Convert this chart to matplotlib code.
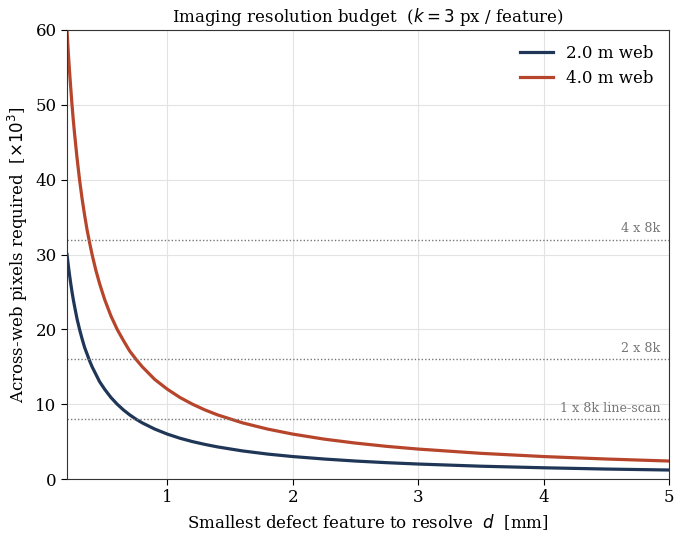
import numpy as np
import matplotlib
matplotlib.use("Agg")
import matplotlib.pyplot as plt

plt.rcParams["font.family"] = "DejaVu Serif"
plt.rcParams["mathtext.fontset"] = "dejavusans"

# feature size d [mm] and pixels required [x10^3]
d_mm = [0.2, 0.21, 0.22, 0.23, 0.24, 0.25, 0.26, 0.28, 0.3, 0.32, 0.34, 0.36, 0.38,
        0.4, 0.43, 0.46, 0.5, 0.55, 0.6, 0.65, 0.7, 0.75, 0.8, 0.9, 1.0, 1.1, 1.2,
        1.3, 1.4, 1.6, 1.8, 2.0, 2.25, 2.5, 2.75, 3.0, 3.5, 4.0, 4.5, 5.0]
px_2m = [30.0, 28.6, 27.3, 26.1, 25.0, 24.0, 23.1, 21.4, 20.0, 18.75, 17.6, 16.7, 15.8,
         15.0, 14.0, 13.0, 12.0, 10.9, 10.0, 9.23, 8.57, 8.0, 7.5, 6.67, 6.0, 5.45, 5.0,
         4.62, 4.29, 3.75, 3.33, 3.0, 2.67, 2.4, 2.18, 2.0, 1.71, 1.5, 1.33, 1.2]
px_4m = [60.0, 57.1, 54.5, 52.2, 50.0, 48.0, 46.2, 42.9, 40.0, 37.5, 35.3, 33.3, 31.6,
         30.0, 27.9, 26.1, 24.0, 21.8, 20.0, 18.5, 17.1, 16.0, 15.0, 13.3, 12.0, 10.9, 10.0,
         9.23, 8.57, 7.5, 6.67, 6.0, 5.33, 4.8, 4.36, 4.0, 3.43, 3.0, 2.67, 2.4]
series_labels = ["2.0 m web", "4.0 m web"]

# camera options (pixels x10^3)
cam_levels = [8, 16, 32]
cam_labels = ["1 x 8k line-scan", "2 x 8k", "4 x 8k"]

fig = plt.figure(figsize=(6.81, 5.35), dpi=100)
ax = fig.add_axes([67 / 681, 56 / 535, 602 / 681, 449 / 535])

ax.plot(d_mm, px_2m, color="#1f3657", lw=2.3, label=series_labels[0])
ax.plot(d_mm, px_4m, color="#b6452b", lw=2.3, label=series_labels[1])

for lvl, lab in zip(cam_levels, cam_labels):
    ax.axhline(lvl, color="#777777", lw=1.0, ls=(0, (1, 1.5)))
    ax.text(4.93, lvl + 0.6, lab, ha="right", va="bottom", fontsize=9.2, color="#777777")

ax.set_xlim(0.2, 5)
ax.set_ylim(0, 60)
ax.set_xticks([1, 2, 3, 4, 5])
ax.set_yticks(np.arange(0, 61, 10))
ax.grid(True, color="#e3e3e3", lw=0.8)
ax.set_axisbelow(True)
ax.tick_params(labelsize=12, direction="out", length=4)
for s in ax.spines.values():
    s.set_color("#333333")

ax.set_xlabel(r"Smallest defect feature to resolve  $d$  [mm]", fontsize=12)
ax.set_ylabel(r"Across-web pixels required  [$\times 10^3$]", fontsize=12)
ax.set_title(r"Imaging resolution budget  ($k = 3$ px / feature)", fontsize=12)
ax.legend(loc="upper right", frameon=False, fontsize=12)

fig.savefig("out.png", dpi=100)
